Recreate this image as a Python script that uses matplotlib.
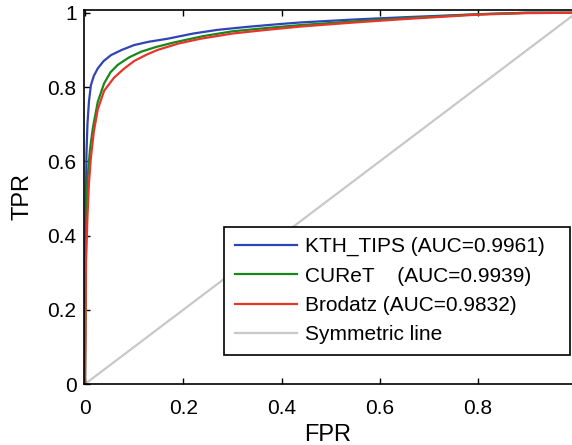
import matplotlib.pyplot as plt

plt.rcParams['font.family'] = ['Liberation Sans', 'DejaVu Sans']

# ROC points (FPR, TPR)
kth_fpr = [0.0, 0.001, 0.003, 0.005, 0.008, 0.012, 0.018, 0.026, 0.038, 0.053, 0.075,
           0.10, 0.13, 0.168, 0.22, 0.27, 0.33, 0.40, 0.44, 0.55, 0.65, 0.80, 0.90, 0.99]
kth_tpr = [0.0, 0.40, 0.62, 0.70, 0.76, 0.805, 0.83, 0.85, 0.87, 0.886, 0.90,
           0.913, 0.922, 0.93, 0.944, 0.954, 0.962, 0.97, 0.974, 0.982, 0.988, 0.996, 1.0, 1.0]

cur_fpr = [0.0, 0.002, 0.005, 0.010, 0.016, 0.026, 0.039, 0.052, 0.067, 0.09,
           0.114, 0.145, 0.181, 0.24, 0.30, 0.37, 0.44, 0.55, 0.65, 0.80, 0.90, 0.99]
cur_tpr = [0.0, 0.36, 0.55, 0.63, 0.69, 0.76, 0.81, 0.84, 0.86, 0.88,
           0.895, 0.908, 0.92, 0.937, 0.95, 0.959, 0.967, 0.977, 0.985, 0.996, 1.0, 1.0]

bro_fpr = [0.0, 0.002, 0.005, 0.008, 0.012, 0.018, 0.026, 0.039, 0.059, 0.08,
           0.10, 0.125, 0.148, 0.19, 0.235, 0.30, 0.37, 0.44, 0.55, 0.65, 0.80, 0.90, 0.99]
bro_tpr = [0.0, 0.33, 0.45, 0.54, 0.61, 0.68, 0.74, 0.79, 0.825, 0.85,
           0.87, 0.887, 0.90, 0.917, 0.93, 0.944, 0.954, 0.963, 0.974, 0.983, 0.995, 0.999, 1.0]

diag = [0.0, 1.0]

labels = ['KTH_TIPS (AUC=0.9961)', 'CUReT    (AUC=0.9939)',
          'Brodatz (AUC=0.9832)', 'Symmetric line']
colors = ['#2f44b5', '#17891c', '#e8352a', '#c8c8c8']

fig = plt.figure(figsize=(5.72, 4.45), dpi=100)
ax = fig.add_axes([0.146, 0.137, 0.854, 0.841])

ax.plot(kth_fpr, kth_tpr, color=colors[0], lw=1.6, label=labels[0])
ax.plot(cur_fpr, cur_tpr, color=colors[1], lw=1.6, label=labels[1])
ax.plot(bro_fpr, bro_tpr, color=colors[2], lw=1.6, label=labels[2])
ax.plot(diag, diag, color=colors[3], lw=1.6, label=labels[3], zorder=1)

ax.set_xlim(-0.003, 0.991)
ax.set_ylim(0, 1.008)
ax.set_xticks([0, 0.2, 0.4, 0.6, 0.8])
ax.set_xticklabels(['0', '0.2', '0.4', '0.6', '0.8'])
ax.set_yticks([0, 0.2, 0.4, 0.6, 0.8, 1.0])
ax.set_yticklabels(['0', '0.2', '0.4', '0.6', '0.8', '1'])
ax.tick_params(direction='in', top=True, right=False, length=4, width=1,
               labelsize=15)
ax.tick_params(axis='x', pad=11)
ax.tick_params(axis='y', pad=5)
ax.spines['right'].set_visible(False)
for s in ['left', 'bottom', 'top']:
    ax.spines[s].set_linewidth(1.2)

ax.set_xlabel('FPR', fontsize=17, labelpad=4)
ax.set_ylabel('TPR', fontsize=17, labelpad=10)

leg = ax.legend(loc='lower left', bbox_to_anchor=(0.288, 0.078, 0.708, 0.344),
                mode='expand', fontsize=15, handlelength=3.0, handletextpad=0.4,
                labelspacing=0.5, borderpad=0.5, fancybox=False,
                edgecolor='black', framealpha=1, borderaxespad=0)
leg.get_frame().set_linewidth(1.2)

fig.savefig('out.png', dpi=100)
